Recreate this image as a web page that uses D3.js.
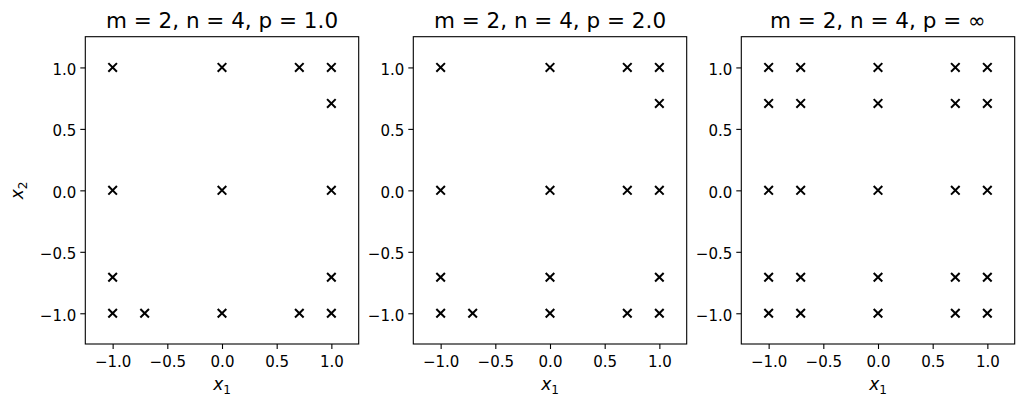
<!DOCTYPE html>
<html><head><meta charset="utf-8">
<script src="https://cdn.jsdelivr.net/npm/d3@7"></script>
<style>body{margin:0;background:#fff}svg{display:block}text{font-family:"DejaVu Sans",sans-serif}</style>
</head><body>
<svg id="c" width="1024" height="406"></svg>
<script>
const titles = ["m = 2, n = 4, p = 1.0", "m = 2, n = 4, p = 2.0", "m = 2, n = 4, p = \u221e"];
const tickValues = [-1.0, -0.5, 0.0, 0.5, 1.0];
const tickLabels = ["\u22121.0", "\u22120.5", "0.0", "0.5", "1.0"];
const domain = [-1.25, 1.25];

const p1X = [-1, 0, 0.7071, 1, 1, -1, 0, 1, -1, 1, -1, -0.7071, 0, 0.7071, 1];
const p1Y = [1, 1, 1, 1, 0.7071, 0, 0, 0, -0.7071, -0.7071, -1, -1, -1, -1, -1];

const p2X = [-1, 0, 0.7071, 1, 1, -1, 0, 0.7071, 1, -1, 0, 1, -1, -0.7071, 0, 0.7071, 1];
const p2Y = [1, 1, 1, 1, 0.7071, 0, 0, 0, 0, -0.7071, -0.7071, -0.7071, -1, -1, -1, -1, -1];

const p3X = [-1, -0.7071, 0, 0.7071, 1, -1, -0.7071, 0, 0.7071, 1, -1, -0.7071, 0, 0.7071, 1, -1, -0.7071, 0, 0.7071, 1, -1, -0.7071, 0, 0.7071, 1];
const p3Y = [1, 1, 1, 1, 1, 0.7071, 0.7071, 0.7071, 0.7071, 0.7071, 0, 0, 0, 0, 0, -0.7071, -0.7071, -0.7071, -0.7071, -0.7071, -1, -1, -1, -1, -1];

const panels = [[p1X, p1Y], [p2X, p2Y], [p3X, p3Y]];

(function () {
const svg = d3.select("#c");
const lefts = [85.3, 413.3, 741.3];
const W = 273.4, T = 36.7, H = 307.3;

panels.forEach(([xs, ys], i) => {
  const g = svg.append("g").attr("transform", `translate(${lefts[i]},${T})`);
  const x = d3.scaleLinear().domain(domain).range([0, W]);
  const y = d3.scaleLinear().domain(domain).range([H, 0]);

  const xa = g.append("g").attr("transform", `translate(0,${H})`)
    .call(d3.axisBottom(x).tickValues(tickValues).tickFormat((d, j) => tickLabels[j]).tickSize(5).tickPadding(7));
  const ya = g.append("g")
    .call(d3.axisLeft(y).tickValues(tickValues).tickFormat((d, j) => tickLabels[j]).tickSize(5).tickPadding(4));
  [xa, ya].forEach(a => {
    a.select(".domain").remove();
    a.selectAll("line").attr("stroke", "#000").attr("stroke-width", 1.1);
    a.selectAll("text").attr("font-size", 15).attr("fill", "#000").attr("font-family", "DejaVu Sans");
  });
  ya.selectAll("text").attr("dy", "0.45em");

  g.append("rect").attr("x", 0).attr("y", 0).attr("width", W).attr("height", H)
    .attr("fill", "none").attr("stroke", "#000").attr("stroke-width", 1.1);

  const s = 4.3;
  const pts = xs.map((v, k) => [v, ys[k]]);
  g.append("g").selectAll("path").data(pts).join("path")
    .attr("d", d => {
      const cx = x(d[0]), cy = y(d[1]);
      return `M${cx - s},${cy - s}L${cx + s},${cy + s}M${cx - s},${cy + s}L${cx + s},${cy - s}`;
    })
    .attr("stroke", "#000").attr("stroke-width", 2).attr("fill", "none");

  g.append("text").attr("x", W / 2).attr("y", -9).attr("text-anchor", "middle")
    .attr("font-size", 21.5).attr("fill", "#000").text(titles[i]);

  const xl = g.append("text").attr("x", W / 2).attr("y", H + 46).attr("text-anchor", "middle")
    .attr("font-size", 17).attr("fill", "#000");
  xl.append("tspan").attr("font-style", "italic").text("x");
  xl.append("tspan").attr("font-size", 12).attr("dy", 4).text("1");

  if (i === 0) {
    const yl = g.append("text").attr("transform", `translate(${-62},${H / 2}) rotate(-90)`)
      .attr("text-anchor", "middle").attr("font-size", 17).attr("fill", "#000");
    yl.append("tspan").attr("font-style", "italic").text("x");
    yl.append("tspan").attr("font-size", 12).attr("dy", 4).text("2");
  }
});
})();
</script>
</body></html>
